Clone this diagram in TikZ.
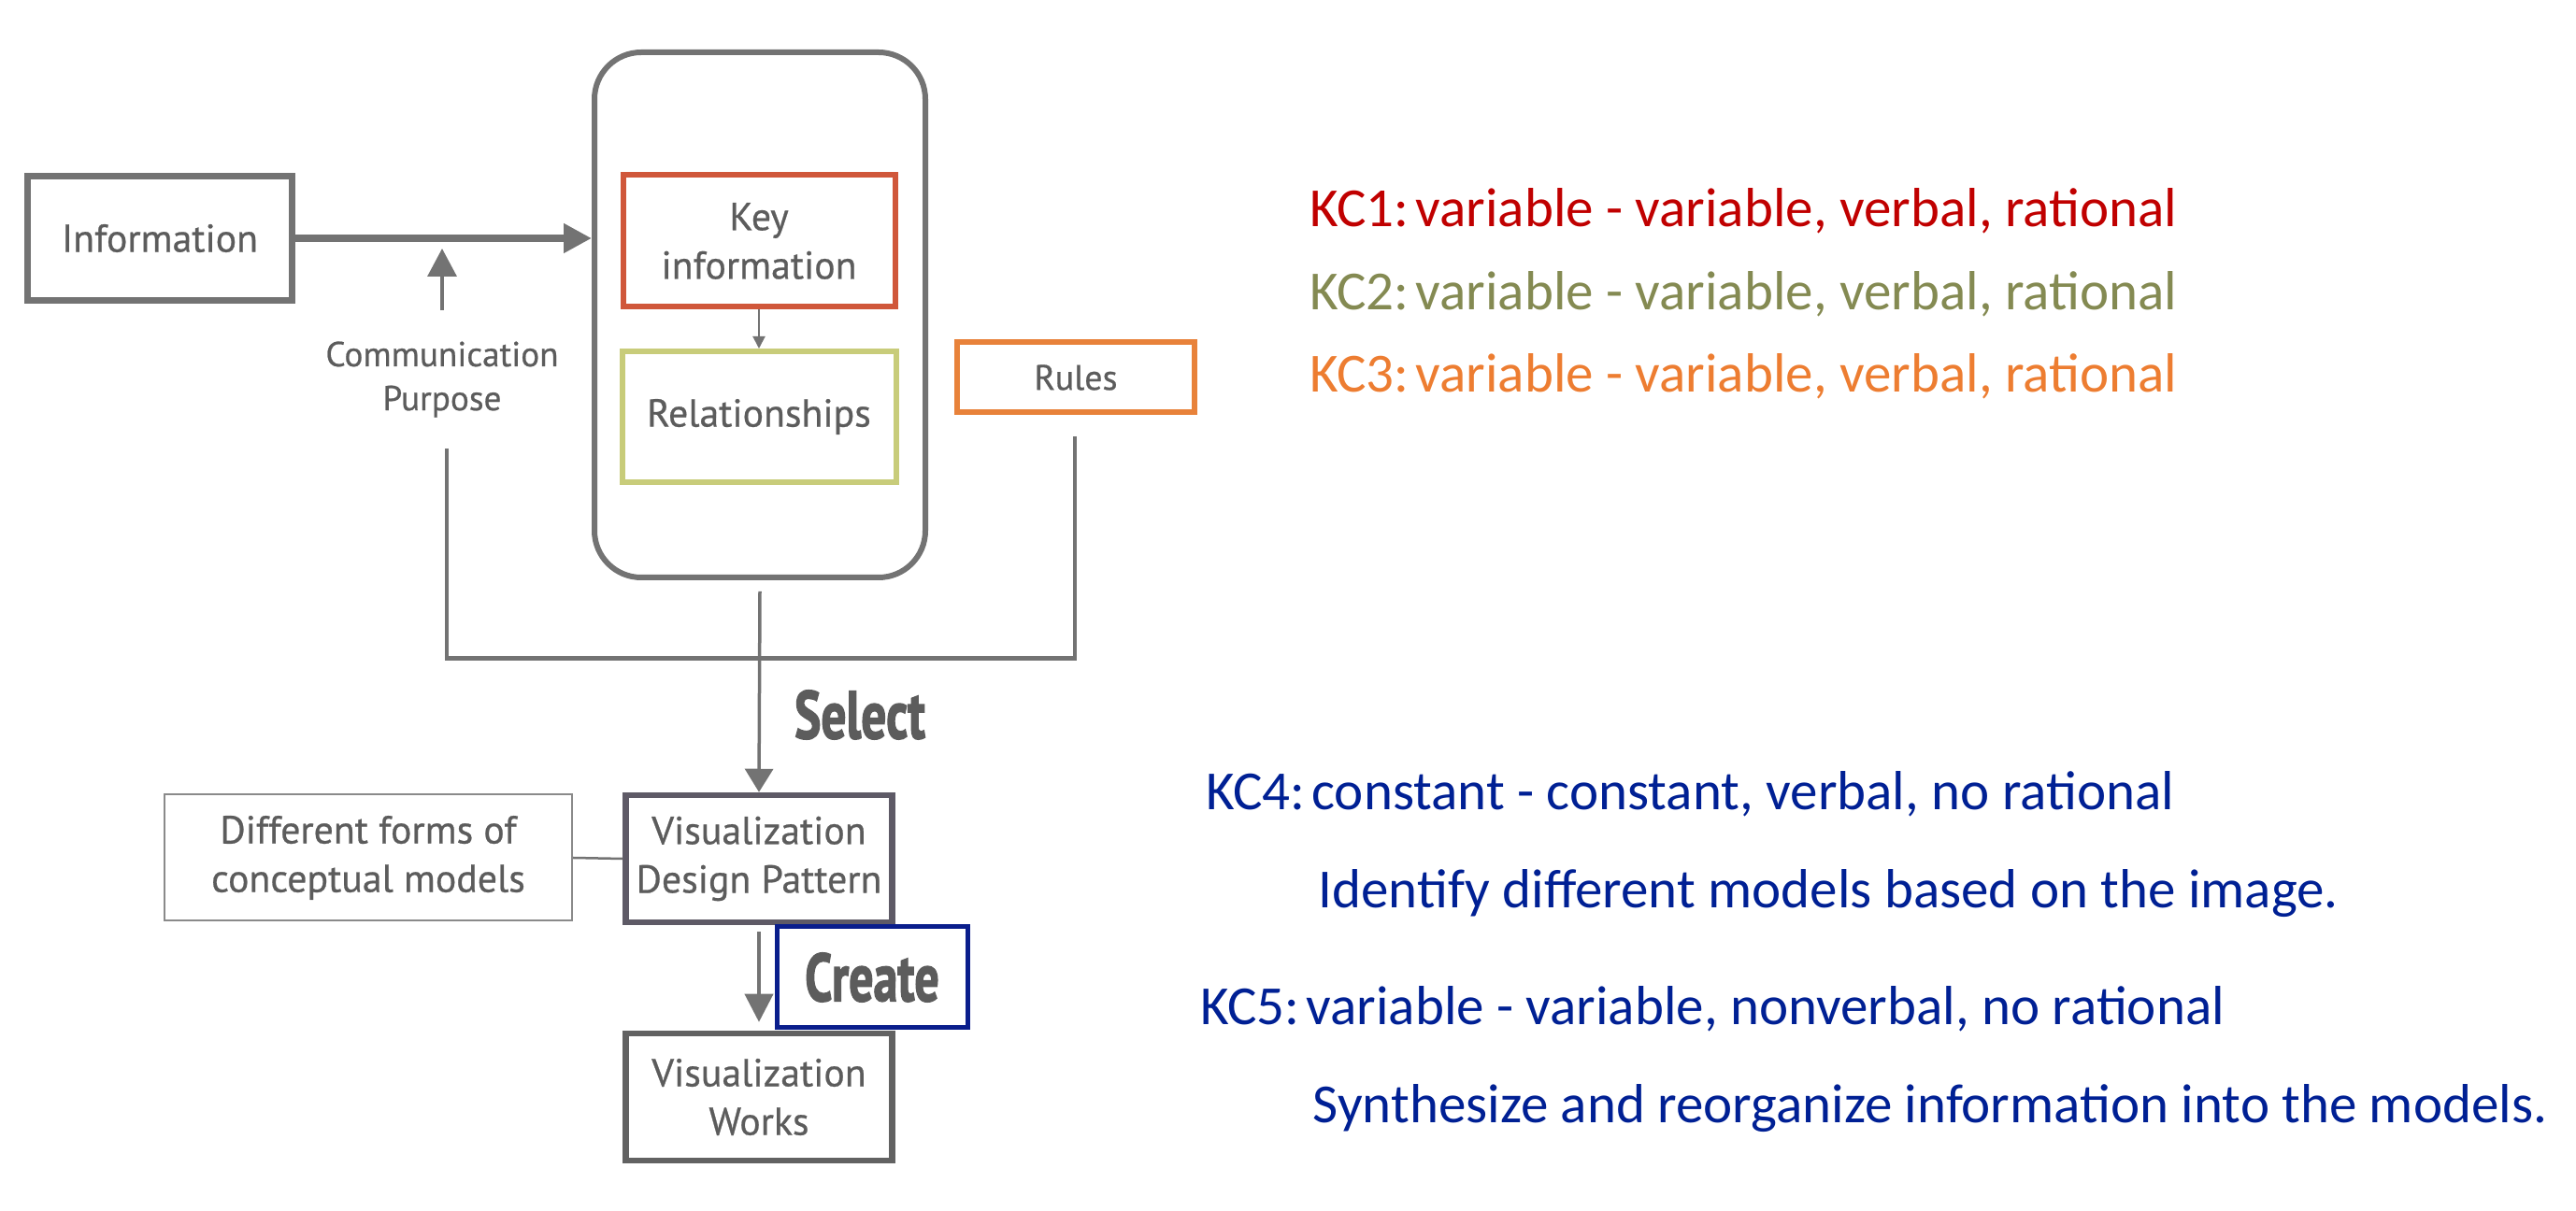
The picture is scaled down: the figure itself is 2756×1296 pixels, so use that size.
\documentclass[tikz,border=0pt]{standalone}
\usepackage{fontspec}
\usepackage{graphicx}
\usetikzlibrary{arrows.meta,calc}
\setmainfont{Carlito}
\newfontfamily\dfont{PT Sans}[FakeBold=0.6]
\newfontfamily\heavyfont{PT Sans}[FakeBold=2.2]
\definecolor{lgrey}{HTML}{737373}
\definecolor{tgrey}{HTML}{5C5C5C}
\definecolor{midgrey}{HTML}{8A8A8A}
\definecolor{vdpgrey}{HTML}{5E5A66}
\definecolor{vwgrey}{HTML}{626262}
\definecolor{keyred}{HTML}{D0573A}
\definecolor{relgreen}{HTML}{C8CC7A}
\definecolor{rulesorange}{HTML}{E8823A}
\definecolor{createblue}{HTML}{0A1E8C}
\definecolor{kcone}{HTML}{C00000}
\definecolor{kctwo}{HTML}{848A52}
\definecolor{kcthree}{HTML}{ED7D31}
\definecolor{kcblue}{HTML}{002094}
\newcommand\kcsep{:\hspace{0.12em}}
\tikzset{
  box/.style={draw=lgrey, line width=0.7mm, inner sep=0pt, text=tgrey, align=center,
    font=\dfont\fontsize{11.9pt}{14.8pt}\selectfont},
  smalltxt/.style={inner sep=0pt, text=tgrey, align=center,
    font=\dfont\fontsize{10.6pt}{13.4pt}\selectfont},
  sketchbox/.style={line width=0.6mm, inner sep=0pt, text=tgrey, align=center,
    font=\dfont\fontsize{11.9pt}{14.8pt}\selectfont},
  kc/.style={anchor=base west, inner sep=0pt, font=\fontsize{16.8pt}{20pt}\selectfont},
  bigtip/.style={-{Triangle[length=3mm,width=3mm]}},
  conn/.style={draw=lgrey, line width=0.35mm},
  heavy/.style={inner sep=0pt, text=tgrey, font=\heavyfont\bfseries\fontsize{19pt}{20pt}\selectfont}
}
\begin{document}
\begin{tikzpicture}[x=0.1mm,y=-0.1mm]
\useasboundingbox (0,0) rectangle (2756,1296);

% nodes
\node[box, minimum width=28.3mm, minimum height=13.3mm] (info) at (171,255) {Information};
\node[draw=lgrey, line width=0.6mm, rounded corners=5mm, minimum width=35.4mm, minimum height=56.2mm] (big) at (813,337) {};
\node[sketchbox, draw=keyred, minimum width=29.1mm, minimum height=14.1mm] (key) at (812,258) {Key\\information};
\node[sketchbox, draw=relgreen, minimum width=29.3mm, minimum height=14.0mm] (rel) at (812,446) {Relationships};
\node[sketchbox, draw=rulesorange, minimum width=25.4mm, minimum height=7.5mm, font=\dfont\fontsize{10.8pt}{13pt}\selectfont] (rules) at (1151,404) {Rules};
\node[smalltxt] (comm) at (473,406) {Communication\\Purpose};
\node[box, draw=vdpgrey, line width=0.65mm, minimum width=28.5mm, minimum height=13.6mm] (vdp) at (812,919) {Visualization\\Design Pattern};
\node[box, draw=midgrey, line width=0.2mm, minimum width=43.6mm, minimum height=13.5mm] (diff) at (394,918) {Different forms of\\conceptual models};
\node[box, draw=vwgrey, line width=0.65mm, minimum width=28.5mm, minimum height=13.6mm] (vw) at (812,1174) {Visualization\\Works};
\node[heavy, draw=createblue, line width=0.5mm, minimum width=20.4mm, minimum height=10.8mm] (create) at (933,1046) {\scalebox{0.78}[1.08]{Create}};
\node[heavy] (select) at (920,765) {\scalebox{0.8}[1.08]{Select}};

% connector end points
\coordinate (ctail) at (473,332);
\coordinate (ctip) at (473,266);
\coordinate (bl) at (478,480);
\coordinate (br) at (1150,467);
\coordinate (bj) at (813,705);

% connectors
\draw[draw=lgrey, line width=0.75mm, bigtip, fill=lgrey] (info.east) -- (info.east -| big.west);
\draw[conn, -{Triangle[length=3mm,width=3.1mm]}, fill=lgrey] (ctail) -- (ctip);
\draw[draw=lgrey, line width=0.2mm, -{Triangle[length=1.3mm,width=1.3mm]}, fill=lgrey] (key.south) -- (rel.north);
\draw[conn] (bl) -- (bl |- bj);
\draw[conn] (br) -- (br |- bj);
\draw[draw=lgrey, line width=0.5mm] ([xshift=-0.175mm]bl |- bj) -- ([xshift=0.175mm]br |- bj);
\draw[conn, -{Triangle[length=2.5mm,width=3mm]}, fill=lgrey] ([yshift=-1.2mm]big.south) -- (vdp.north);
\draw[draw=lgrey, line width=0.25mm] (diff.east) -- (vdp.west);
\draw[draw=lgrey, line width=0.4mm, -{Triangle[length=3mm,width=3mm]}, fill=lgrey] ([yshift=-0.7mm]vdp.south) -- ([yshift=0.9mm]vw.north);

% KC texts
\node[kc, text=kcone] (kc1) at (1401,243) {KC1\kcsep variable - variable, verbal, rational};
\node[kc, text=kctwo] (kc2) at (1401,332) {KC2\kcsep variable - variable, verbal, rational};
\node[kc, text=kcthree] (kc3) at (1401,420) {KC3\kcsep variable - variable, verbal, rational};
\node[kc, text=kcblue] (kc4) at (1290,867) {KC4\kcsep constant - constant, verbal, no rational};
\node[kc, text=kcblue] (kc4b) at (1410,972) {Identify different models based on the image.};
\node[kc, text=kcblue] (kc5) at (1284,1097) {KC5\kcsep variable - variable, nonverbal, no rational};
\node[kc, text=kcblue] (kc5b) at (1404,1202) {Synthesize and reorganize information into the models.};
\end{tikzpicture}
\end{document}
